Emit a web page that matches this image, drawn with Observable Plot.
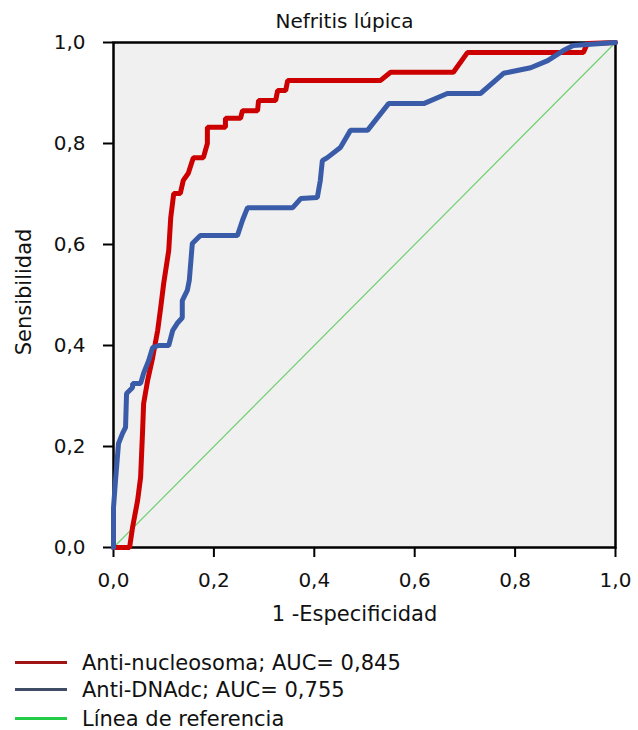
<!DOCTYPE html>
<html>
<head>
<meta charset="utf-8">
<script src="https://cdn.jsdelivr.net/npm/d3@7"></script>
<script src="https://cdn.jsdelivr.net/npm/@observablehq/plot@0.6"></script>
<style>
  body { margin: 0; background: #fff; font-family: "DejaVu Sans", sans-serif; }
  #wrap { position: relative; width: 638px; height: 730px; }
  .leg { position: absolute; left: 0; width: 638px; height: 27px; }
  .leg .sw { position: absolute; left: 15px; width: 52px; height: 3px; }
  .leg .tx { position: absolute; left: 82px; font-size: 21px; line-height: 27px; top: -12px; color: #111; white-space: nowrap; }
</style>
</head>
<body>
<div id="wrap"></div>
<script>
const title = "Nefritis lúpica";
const xLabel = "1 -Especificidad";
const yLabel = "Sensibilidad";
const ticks = [0, 0.2, 0.4, 0.6, 0.8, 1.0];

// Anti-nucleosoma ROC curve (1 - especificidad, sensibilidad)
const nucX = [0, 0.032, 0.038, 0.048, 0.054, 0.058, 0.060, 0.068, 0.078, 0.088, 0.094, 0.100, 0.110, 0.114, 0.120, 0.133, 0.139, 0.149, 0.159, 0.179, 0.187, 0.187, 0.223, 0.223, 0.253, 0.257, 0.287, 0.289, 0.323, 0.327, 0.343, 0.347, 0.532, 0.552, 0.677, 0.705, 0.936, 0.944, 1.0];
const nucY = [0, 0, 0.040, 0.093, 0.139, 0.232, 0.285, 0.331, 0.376, 0.430, 0.475, 0.523, 0.588, 0.653, 0.701, 0.701, 0.727, 0.741, 0.772, 0.772, 0.800, 0.832, 0.832, 0.850, 0.850, 0.865, 0.865, 0.885, 0.885, 0.905, 0.905, 0.925, 0.925, 0.941, 0.941, 0.980, 0.980, 0.998, 1.0];

// Anti-DNAdc ROC curve
const dnaX = [0, 0, 0.004, 0.010, 0.018, 0.024, 0.026, 0.038, 0.038, 0.054, 0.060, 0.070, 0.078, 0.090, 0.110, 0.118, 0.127, 0.137, 0.137, 0.147, 0.151, 0.157, 0.173, 0.247, 0.257, 0.267, 0.357, 0.373, 0.406, 0.412, 0.416, 0.426, 0.452, 0.472, 0.506, 0.548, 0.618, 0.665, 0.731, 0.777, 0.831, 0.865, 0.896, 0.916, 1.0];
const dnaY = [0, 0.079, 0.133, 0.206, 0.226, 0.238, 0.305, 0.317, 0.325, 0.325, 0.345, 0.370, 0.396, 0.400, 0.400, 0.430, 0.444, 0.455, 0.489, 0.509, 0.529, 0.602, 0.618, 0.618, 0.648, 0.673, 0.673, 0.691, 0.693, 0.727, 0.766, 0.772, 0.792, 0.826, 0.826, 0.879, 0.879, 0.899, 0.899, 0.939, 0.950, 0.964, 0.984, 0.994, 1.0];

// Reference line
const refX = [0, 1];
const refY = [0, 1];

const legendNames = ["Anti-nucleosoma; AUC= 0,845", "Anti-DNAdc; AUC= 0,755", "Línea de referencia"];
const legendColors = ["#a01414", "#3e4c66", "#22cc44"];

const nuc = nucX.map((x, i) => ({x, y: nucY[i]}));
const dna = dnaX.map((x, i) => ({x, y: dnaY[i]}));
const ref = refX.map((x, i) => ({x, y: refY[i]}));
const fmt = d => d.toFixed(1).replace(".", ",");

const chart = Plot.plot({
  width: 638,
  height: 640,
  marginLeft: 113,
  marginRight: 23,
  marginTop: 42,
  marginBottom: 93,
  style: {fontFamily: "DejaVu Sans, sans-serif", background: "#fff", color: "#111"},
  x: {domain: [0, 1]},
  y: {domain: [0, 1]},
  marks: [
    Plot.frame({fill: "#f0f0f0", stroke: "#000", strokeWidth: 2.5}),
    Plot.axisX({ticks, tickFormat: fmt, tickSize: 10, tickPadding: 15, fontSize: 20, label: null, stroke: "#000", strokeWidth: 2}),
    Plot.axisY({ticks, tickFormat: fmt, tickSize: 10, tickPadding: 18, fontSize: 20, label: null, stroke: "#000", strokeWidth: 2}),
    Plot.line(ref, {x: "x", y: "y", stroke: "#6fd06f", strokeWidth: 1.2}),
    Plot.line(nuc, {x: "x", y: "y", stroke: "#cc0000", strokeWidth: 5, strokeLinejoin: "miter"}),
    Plot.line(dna, {x: "x", y: "y", stroke: "#3a5ca8", strokeWidth: 5, strokeLinejoin: "miter"}),
    Plot.text([title], {frameAnchor: "top", textAnchor: "middle", lineAnchor: "middle", dy: -21, dx: -20, fontSize: 20, fill: "#111"}),
    Plot.text([xLabel], {frameAnchor: "bottom", textAnchor: "middle", lineAnchor: "middle", dy: 67, dx: -10, fontSize: 21, fill: "#111"}),
    Plot.text([yLabel], {frameAnchor: "left", textAnchor: "middle", lineAnchor: "middle", dx: -89, dy: -3, rotate: -90, fontSize: 21, fill: "#111"})
  ]
});

const wrap = document.getElementById("wrap");
wrap.appendChild(chart);
const rowsY = [662, 689, 718];
legendNames.forEach((name, i) => {
  const row = document.createElement("div");
  row.className = "leg";
  row.style.top = (rowsY[i]) + "px";
  const sw = document.createElement("div");
  sw.className = "sw";
  sw.style.background = legendColors[i];
  sw.style.top = "-1px";
  const tx = document.createElement("div");
  tx.className = "tx";
  tx.textContent = name;
  row.appendChild(sw);
  row.appendChild(tx);
  wrap.appendChild(row);
});
</script>
</body>
</html>
